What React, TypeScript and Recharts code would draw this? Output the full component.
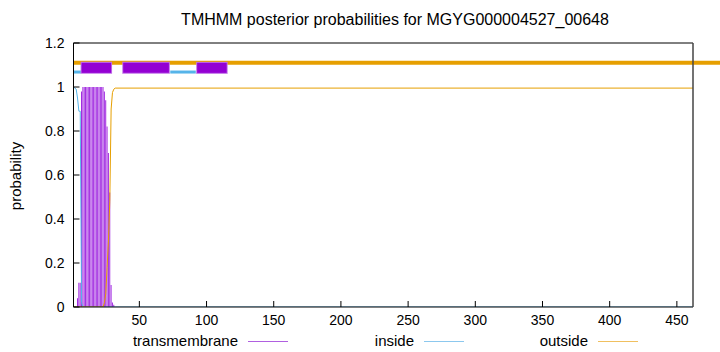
import {
    Bar,
    ComposedChart,
    Line,
    ReferenceLine,
    XAxis,
    YAxis,
} from "recharts";

// residue positions that carry a changing probability, plus the last residue
const residues = [
    1, 2, 3, 4, 5, 6, 7, 8, 9, 10, 11, 12, 13, 14, 15, 16, 17, 18, 19, 20, 21,
    22, 23, 24, 25, 26, 27, 28, 29, 30, 31, 32, 462,
];
const transmembrane = [
    0, 0, 0, 0.04, 0.11, 0.11, 0.98, 1, 1, 1, 1, 1, 1, 1, 1, 1, 1, 1, 1, 1, 1,
    1, 1, 0.98, 0.94, 0.82, 0.7, 0.52, 0.1, 0.02, 0.01, 0, 0,
];
const inside = [
    1, 0.995, 0.99, 0.95, 0.89, 0.89, 0.02, 0, 0, 0, 0, 0, 0, 0, 0, 0, 0, 0, 0,
    0, 0, 0, 0, 0, 0, 0, 0, 0, 0, 0, 0, 0, 0,
];
const outside = [
    0, 0, 0, 0, 0, 0, 0, 0, 0, 0, 0, 0, 0, 0, 0, 0, 0, 0, 0, 0, 0, 0, 0, 0.02,
    0.06, 0.18, 0.3, 0.48, 0.9, 0.975, 0.99, 0.995, 0.995,
];

// predicted topology drawn above the curves
const tmSegments = [
    [7, 29],
    [38, 72],
    [93, 115],
];
const insideSegments = [
    [1, 6.5],
    [73, 92],
];

const xTicks = [50, 100, 150, 200, 250, 300, 350, 400, 450];
const yTicks = [0, 0.2, 0.4, 0.6, 0.8, 1, 1.2];

const data = residues.map((r, i) => ({
    residue: r,
    tm: transmembrane[i],
    inside: inside[i],
    outside: outside[i],
}));

const PURPLE = "#9400d3";
const BLUE = "#56b4e9";
const ORANGE = "#e69f00";
const FONT = "'Liberation Sans', Arial, sans-serif";

const tickStyle = { fill: "#000", fontSize: 14, fontFamily: FONT };

const legend = [
    { label: "transmembrane", color: "#b060e0", textRight: 238, lineLeft: 248 },
    { label: "inside", color: "#8cc8ee", textRight: 414, lineLeft: 424 },
    { label: "outside", color: "#f0c060", textRight: 588, lineLeft: 598 },
];

export default function App() {
    return (
        <div style={{ position: "relative", width: 720, height: 352, background: "#fff" }}>
            <style>{`body{margin:0}`}</style>
            <div
                style={{
                    position: "absolute",
                    top: 10,
                    left: 0,
                    width: 790,
                    textAlign: "center",
                    fontFamily: FONT,
                    fontSize: 16,
                    lineHeight: "20px",
                }}
            >
                TMHMM posterior probabilities for MGYG000004527_00648
            </div>
            <ComposedChart
                width={720}
                height={352}
                data={data}
                margin={{ top: 42, right: 26, bottom: 0, left: 0 }}
            >
                <XAxis
                    dataKey="residue"
                    type="number"
                    domain={[1, 462]}
                    allowDataOverflow
                    ticks={xTicks}
                    height={45}
                    tickSize={-6}
                    tickMargin={14}
                    tick={tickStyle}
                    stroke="#000"
                />
                <XAxis
                    xAxisId="top"
                    orientation="top"
                    type="number"
                    domain={[1, 462]}
                    allowDataOverflow
                    ticks={xTicks}
                    height={1}
                    tickSize={-6}
                    tick={false}
                    stroke="#000"
                />
                <YAxis
                    type="number"
                    domain={[0, 1.2]}
                    allowDataOverflow
                    ticks={yTicks}
                    width={73.5}
                    tickSize={-6}
                    tickMargin={15}
                    tick={tickStyle}
                    tickFormatter={(v: number) => String(Math.round(v * 10) / 10)}
                    stroke="#000"
                    label={{
                        content: () => (
                            <text
                                x={17}
                                y={176}
                                transform="rotate(-90 17 176)"
                                textAnchor="middle"
                                dominantBaseline="middle"
                                fontFamily={FONT}
                                fontSize={15}
                                fill="#000"
                            >
                                probability
                            </text>
                        ),
                    }}
                />
                <YAxis
                    yAxisId="right"
                    orientation="right"
                    type="number"
                    domain={[0, 1.2]}
                    allowDataOverflow
                    ticks={yTicks}
                    width={1}
                    tickSize={-6}
                    tick={false}
                    stroke="#444"
                    strokeWidth={1.5}
                />
                <Bar
                    dataKey="tm"
                    fill="#a028e0"
                    barCategoryGap="8%"
                    isAnimationActive={false}
                />
                <Line
                    dataKey="inside"
                    type="linear"
                    stroke={BLUE}
                    strokeWidth={1}
                    dot={false}
                    isAnimationActive={false}
                />
                <Line
                    dataKey="outside"
                    type="linear"
                    stroke={ORANGE}
                    strokeWidth={1}
                    dot={false}
                    isAnimationActive={false}
                />
                <ReferenceLine
                    segment={[
                        { x: 1, y: 1.11 },
                        { x: 500, y: 1.11 },
                    ]}
                    stroke={ORANGE}
                    strokeWidth={4}
                    ifOverflow="visible"
                />
                {insideSegments.map(([a, b]) => (
                    <ReferenceLine
                        key={`in-${a}`}
                        segment={[
                            { x: a, y: 1.068 },
                            { x: b, y: 1.068 },
                        ]}
                        stroke={BLUE}
                        strokeWidth={3}
                    />
                ))}
                {tmSegments.map(([a, b]) => (
                    <ReferenceLine
                        key={`tmb-${a}`}
                        segment={[
                            { x: a - 0.7, y: 1.087 },
                            { x: b + 0.7, y: 1.087 },
                        ]}
                        stroke="#c070e8"
                        strokeWidth={12}
                    />
                ))}
                {tmSegments.map(([a, b]) => (
                    <ReferenceLine
                        key={`tm-${a}`}
                        segment={[
                            { x: a, y: 1.087 },
                            { x: b, y: 1.087 },
                        ]}
                        stroke={PURPLE}
                        strokeWidth={10}
                    />
                ))}
            </ComposedChart>
            {legend.map((l) => (
                <div key={l.label}>
                    <div
                        style={{
                            position: "absolute",
                            top: 332,
                            left: l.textRight - 200,
                            width: 200,
                            textAlign: "right",
                            fontFamily: FONT,
                            fontSize: 15,
                            lineHeight: "18px",
                        }}
                    >
                        {l.label}
                    </div>
                    <div
                        style={{
                            position: "absolute",
                            top: 341,
                            left: l.lineLeft,
                            width: 40,
                            height: 1,
                            background: l.color,
                        }}
                    />
                </div>
            ))}
        </div>
    );
}
